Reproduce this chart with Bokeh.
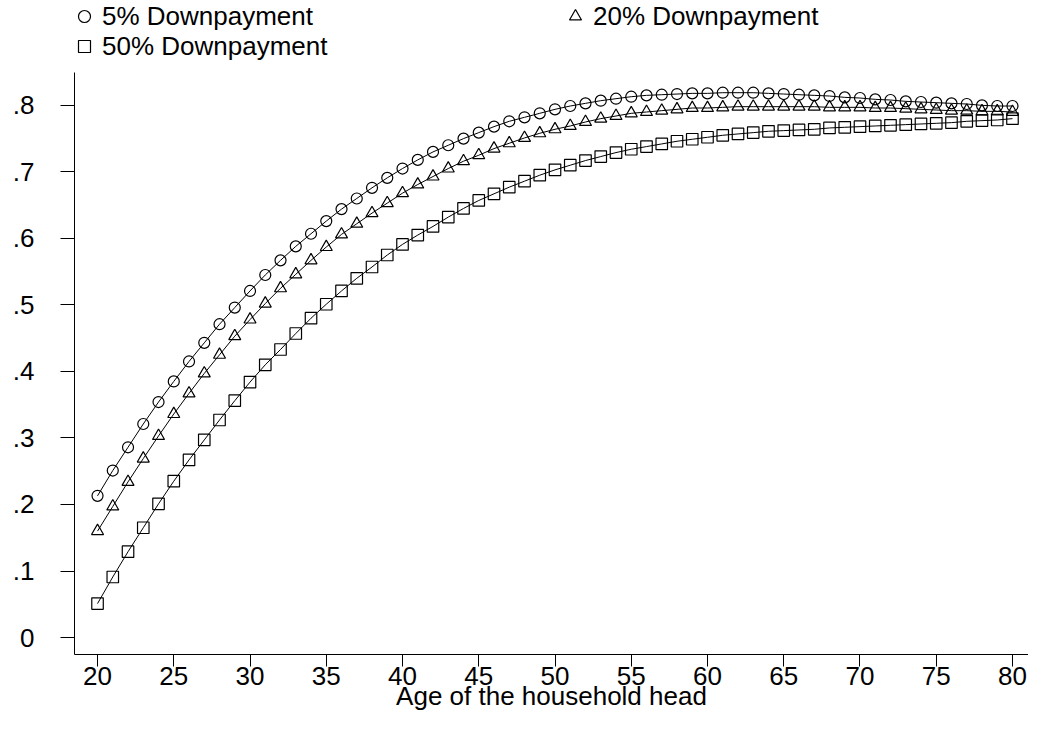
from bokeh.plotting import figure
from bokeh.models import Range1d, FixedTicker, Legend, LegendItem
from bokeh.embed import file_html
from bokeh.resources import INLINE

ages = list(range(20, 81))
dp5 = [0.213, 0.251, 0.286, 0.321, 0.354, 0.385, 0.415, 0.443, 0.471, 0.496,
       0.521, 0.545, 0.567, 0.588, 0.607, 0.626, 0.644, 0.660, 0.676, 0.691,
       0.705, 0.718, 0.730, 0.740, 0.750, 0.759, 0.768, 0.776, 0.782, 0.788,
       0.794, 0.799, 0.803, 0.807, 0.810, 0.813, 0.815, 0.816, 0.817, 0.818,
       0.818, 0.819, 0.819, 0.819, 0.818, 0.817, 0.816, 0.815, 0.814, 0.812,
       0.811, 0.809, 0.808, 0.806, 0.805, 0.804, 0.803, 0.802, 0.800, 0.799,
       0.799]
dp20 = [0.160, 0.197, 0.234, 0.269, 0.303, 0.336, 0.367, 0.397, 0.425, 0.453,
        0.478, 0.502, 0.525, 0.546, 0.567, 0.587, 0.606, 0.622, 0.638, 0.653,
        0.668, 0.681, 0.693, 0.705, 0.716, 0.725, 0.735, 0.743, 0.751, 0.758,
        0.764, 0.769, 0.775, 0.780, 0.784, 0.788, 0.790, 0.792, 0.794, 0.796,
        0.796, 0.797, 0.798, 0.798, 0.798, 0.798, 0.798, 0.798, 0.797, 0.797,
        0.797, 0.796, 0.796, 0.795, 0.794, 0.793, 0.792, 0.792, 0.791, 0.791,
        0.790]
dp50 = [0.051, 0.091, 0.129, 0.165, 0.201, 0.235, 0.267, 0.297, 0.327, 0.356,
        0.384, 0.410, 0.433, 0.457, 0.480, 0.501, 0.521, 0.540, 0.557, 0.575,
        0.591, 0.605, 0.618, 0.632, 0.645, 0.657, 0.667, 0.677, 0.686, 0.695,
        0.703, 0.710, 0.717, 0.723, 0.729, 0.734, 0.738, 0.742, 0.746, 0.749,
        0.752, 0.755, 0.757, 0.759, 0.761, 0.762, 0.763, 0.764, 0.766, 0.767,
        0.768, 0.769, 0.770, 0.771, 0.772, 0.773, 0.774, 0.776, 0.777, 0.778,
        0.780]
series_names = ["5% Downpayment", "20% Downpayment", "50% Downpayment"]
x_ticks = [20, 25, 30, 35, 40, 45, 50, 55, 60, 65, 70, 75, 80]
y_ticks = [0, 0.1, 0.2, 0.3, 0.4, 0.5, 0.6, 0.7, 0.8]
y_tick_labels = ["0", ".1", ".2", ".3", ".4", ".5", ".6", ".7", ".8"]
x_title = "Age of the household head"

FONT = "Liberation Sans"
FS = "26px"

Y_LO, Y_HI, Y_AXIS_TOP = -0.0255, 0.9576, 0.8495

p = figure(width=1028, height=713, output_backend="svg", toolbar_location=None,
           x_range=Range1d(18.49, 81.05), y_range=Range1d(Y_LO, Y_HI),
           min_border_left=74, min_border_right=0, min_border_top=0,
           min_border_bottom=0)
p.xgrid.visible = False
p.ygrid.visible = False
p.outline_line_color = None
p.background_fill_color = "white"
p.border_fill_color = "white"

markers = ["circle", "triangle", "square"]
sizes = [11, 12, 11.5]
scat = []
for vals, mk, sz in zip([dp5, dp20, dp50], markers, sizes):
    p.line(ages, vals, line_color="black", line_width=1)
    r = p.scatter(ages, vals, marker=mk, size=sz, fill_alpha=0,
                  line_color="black", line_width=1.2)
    scat.append(r)

xa = p.xaxis[0]
xa.ticker = FixedTicker(ticks=x_ticks)
xa.major_tick_out = 12
xa.major_tick_in = 0
xa.minor_tick_line_color = None
xa.major_label_standoff = 0
xa.major_label_text_font = FONT
xa.major_label_text_font_size = FS
xa.major_label_text_color = "black"
xa.axis_line_color = "black"
xa.major_tick_line_color = "black"
xa.axis_label = x_title
xa.axis_label_standoff = -7
xa.axis_label_text_font = FONT
xa.axis_label_text_font_size = FS
xa.axis_label_text_font_style = "normal"
xa.axis_label_text_color = "black"

ya = p.yaxis[0]
ya.ticker = FixedTicker(ticks=y_ticks)
ya.major_label_overrides = {t: l for t, l in zip(y_ticks, y_tick_labels)}
ya.bounds = (Y_LO, Y_AXIS_TOP)
ya.major_tick_out = 14
ya.major_tick_in = 0
ya.minor_tick_line_color = None
ya.major_label_standoff = 26
ya.major_label_text_font = FONT
ya.major_label_text_font_size = FS
ya.major_label_text_color = "black"
ya.axis_line_color = "black"
ya.major_tick_line_color = "black"

legend_locs = [(-5, 622), (486, 622), (-5, 592)]
for name, r, loc in zip(series_names, scat, legend_locs):
    lg = Legend(items=[LegendItem(label=name, renderers=[r])], location=loc,
                glyph_width=30, glyph_height=32, label_height=32,
                label_standoff=3, label_text_font=FONT, label_text_font_size=FS,
                label_text_color="black", padding=0, margin=0, spacing=0,
                border_line_color=None, background_fill_alpha=0)
    p.add_layout(lg)

open("out.html", "w").write(file_html(p, INLINE))
